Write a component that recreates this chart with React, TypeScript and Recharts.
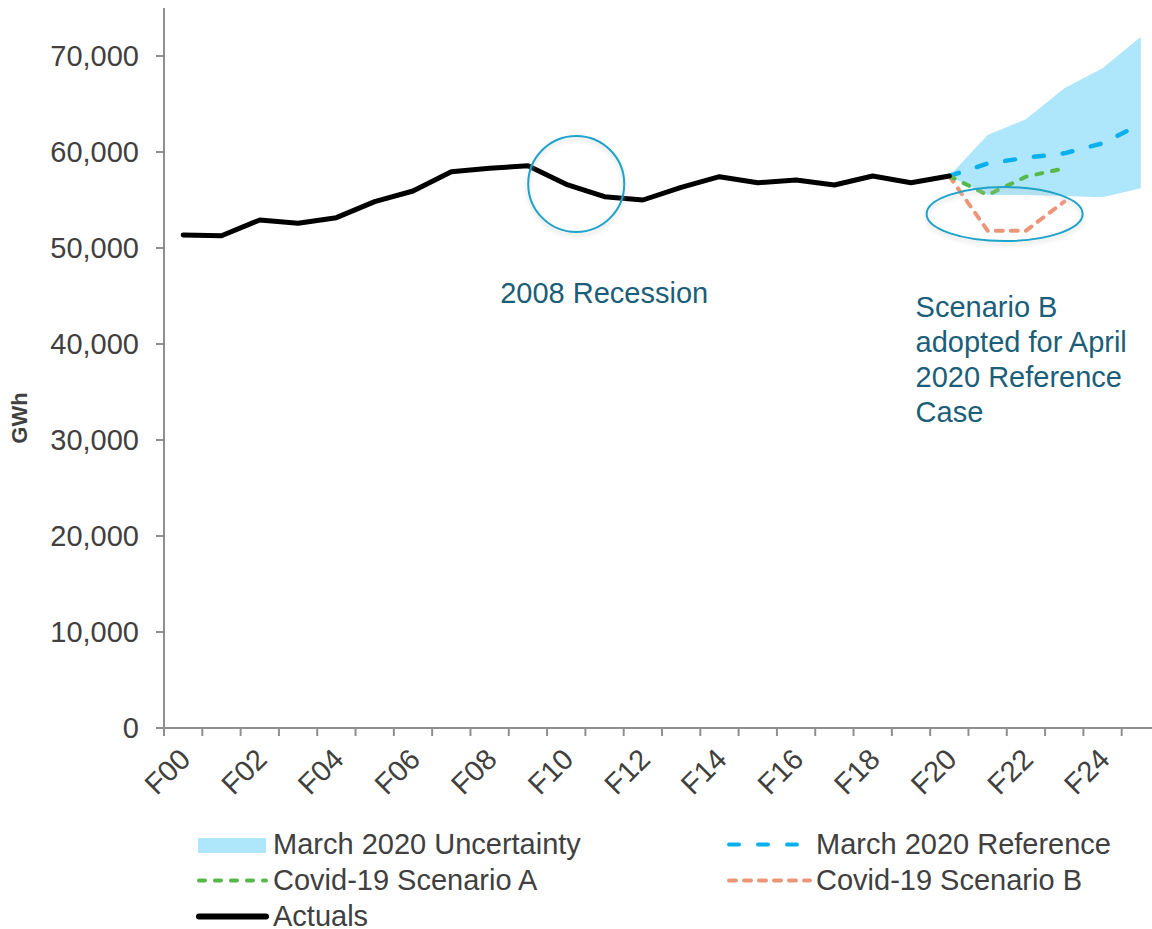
import { Area, ComposedChart, Line, ReferenceDot, XAxis, YAxis } from "recharts";

const years = [
  "F00", "F01", "F02", "F03", "F04", "F05", "F06", "F07", "F08", "F09", "F10", "F11", "F12",
  "F13", "F14", "F15", "F16", "F17", "F18", "F19", "F20", "F21", "F22", "F23", "F24", "F25",
];

const actuals = [
  51350, 51280, 52920, 52570, 53160, 54830, 55940, 57950, 58300, 58570, 56640, 55350, 55000,
  56320, 57430, 56800, 57080, 56560, 57500, 56800, 57500, null, null, null, null, null,
];

const pad = Array(20).fill(null);
const marchReference = [...pad, 57500, 58800, 59400, 59860, 60900, 62900];
const scenarioA = [...pad, 57500, 55520, 57430, 58300, null, null];
const scenarioB = [...pad, 57500, 51800, 51800, 54830, null, null];
const uncertaintyLow = [...pad, 57500, 55520, 55520, 55420, 55280, 56220];
const uncertaintyHigh = [...pad, 57500, 61770, 63400, 66630, 68720, 72010];

const yTicks = [0, 10000, 20000, 30000, 40000, 50000, 60000, 70000];

const data = years.map((year, i) => ({
  year,
  actual: actuals[i],
  reference: marchReference[i],
  a: scenarioA[i],
  b: scenarioB[i],
  unc: uncertaintyLow[i] == null ? null : [uncertaintyLow[i], uncertaintyHigh[i]],
}));

const FONT = "'Liberation Sans', Arial, sans-serif";
const TEXT = "#404040";
const NOTE = "#1b5e79";
const AXIS = "#8f8f8f";
const RING = "#1ea3c9";
const C_UNC = "#aee6fb";
const C_REF = "#0ab0ee";
const C_A = "#55b848";
const C_B = "#ec9679";

const CHART_W = 1170;
const CHART_H = 929;
const Y_W = 164;
const M_RIGHT = 10;
const BAND = (CHART_W - Y_W - M_RIGHT) / years.length;

const DASH_REF = "10 19";
const DASH_A = "6 10";
const DASH_B = "7 8";

const notes = [
  { x: "F10", y: 56670, dx: 10, rx: 48, ry: 48, tx: -76, ty: 119, lines: ["2008 Recession"] },
  {
    x: "F21",
    y: 53540,
    dx: 17,
    rx: 78,
    ry: 27,
    tx: -89,
    ty: 103,
    lines: ["Scenario B", "adopted for April", "2020 Reference", "Case"],
  },
];

function XTick(props: any) {
  const { x, y, payload, index } = props;
  const tx = x + 9;
  const ty = y + 33;
  return (
    <g>
      <line x1={x - BAND / 2} x2={x - BAND / 2} y1={y} y2={y + 8} stroke={AXIS} strokeWidth={2} />
      {index % 2 === 0 && (
        <text
          x={tx}
          y={ty}
          transform={`rotate(-45 ${tx} ${ty})`}
          textAnchor="end"
          fill={TEXT}
          fontSize={29}
          fontFamily={FONT}
        >
          {payload.value}
        </text>
      )}
    </g>
  );
}

function noteShape(n: (typeof notes)[number]) {
  return (p: any) => {
    const cx = p.cx + n.dx;
    const cy = p.cy;
    return (
      <g>
        <ellipse cx={cx} cy={cy + 3} rx={n.rx} ry={n.ry} fill="none" stroke="#c8c8c8" strokeWidth={3} opacity={0.45} filter="url(#soft)" />
        <ellipse cx={cx} cy={cy} rx={n.rx} ry={n.ry} fill="none" stroke={RING} strokeWidth={2} />
        {n.lines.map((t, i) => (
          <text key={t} x={cx + n.tx} y={cy + n.ty + i * 35} fill={NOTE} fontSize={29} fontFamily={FONT}>
            {t}
          </text>
        ))}
      </g>
    );
  };
}

const legendItems = [
  { label: "March 2020 Uncertainty", kind: "box", color: C_UNC, col: 0, row: 0 },
  { label: "March 2020 Reference", kind: "line", color: C_REF, dash: DASH_REF, col: 1, row: 0 },
  { label: "Covid-19 Scenario A", kind: "line", color: C_A, dash: DASH_A, col: 0, row: 1 },
  { label: "Covid-19 Scenario B", kind: "line", color: C_B, dash: DASH_B, col: 1, row: 1 },
  { label: "Actuals", kind: "line", color: "#000", dash: undefined, col: 0, row: 2 },
];

function Overlay() {
  const colX = [198, 728];
  return (
    <svg
      width={1152}
      height={929}
      style={{ position: "absolute", left: 0, top: 0, pointerEvents: "none" }}
    >
      <defs>
        <filter id="soft" x="-20%" y="-20%" width="140%" height="140%">
          <feGaussianBlur stdDeviation={2} />
        </filter>
      </defs>
      <text
        x={27}
        y={418}
        transform="rotate(-90 27 418)"
        textAnchor="middle"
        fontWeight="bold"
        fontSize={22}
        fill={TEXT}
        fontFamily={FONT}
      >
        GWh
      </text>
      {legendItems.map((it) => {
        const x0 = colX[it.col];
        const base = 854 + it.row * 36;
        const mid = base - 9.5;
        return (
          <g key={it.label}>
            {it.kind === "box" ? (
              <rect x={x0} y={838} width={68} height={15} fill={it.color} />
            ) : (
              <line
                x1={x0 + 1}
                x2={x0 + (it.col === 0 ? 68 : 82)}
                y1={mid}
                y2={mid}
                stroke={it.color}
                strokeWidth={it.dash ? 4 : 6}
                strokeDasharray={it.dash}
                strokeLinecap="round"
              />
            )}
            <text x={x0 + (it.col === 0 ? 75 : 88)} y={base} fill={TEXT} fontSize={29} fontFamily={FONT}>
              {it.label}
            </text>
          </g>
        );
      })}
    </svg>
  );
}

export default function App() {
  return (
    <div
      style={{
        position: "fixed",
        left: 0,
        top: 0,
        width: 1152,
        height: 929,
        overflow: "hidden",
        background: "#fff",
      }}
    >
      <ComposedChart
        width={CHART_W}
        height={CHART_H}
        data={data}
        margin={{ top: 8, right: M_RIGHT, bottom: 141, left: 0 }}
      >
        <XAxis
          dataKey="year"
          height={60}
          interval={0}
          padding={{ left: BAND / 2, right: BAND / 2 }}
          tickLine={false}
          tickSize={0}
          tickMargin={0}
          axisLine={{ stroke: AXIS, strokeWidth: 2 }}
          tick={<XTick />}
        />
        <YAxis
          width={Y_W}
          domain={[0, 75000]}
          ticks={yTicks}
          interval={0}
          tickFormatter={(v: number) => v.toLocaleString("en-US")}
          tick={{ fill: TEXT, fontSize: 29, fontFamily: FONT }}
          tickSize={8}
          tickMargin={17}
          axisLine={{ stroke: AXIS, strokeWidth: 2 }}
          tickLine={{ stroke: AXIS, strokeWidth: 2 }}
        />
        <Area dataKey="unc" stroke="none" fill={C_UNC} fillOpacity={1} isAnimationActive={false} />
        <Line dataKey="reference" stroke={C_REF} strokeWidth={4.5} strokeDasharray={DASH_REF} strokeLinecap="round" dot={false} isAnimationActive={false} />
        <Line dataKey="b" stroke={C_B} strokeWidth={4} strokeDasharray={DASH_B} strokeLinecap="round" dot={false} isAnimationActive={false} />
        <Line dataKey="a" stroke={C_A} strokeWidth={4} strokeDasharray={DASH_A} strokeLinecap="round" dot={false} isAnimationActive={false} />
        <Line dataKey="actual" stroke="#000" strokeWidth={5} strokeLinecap="round" strokeLinejoin="round" dot={false} isAnimationActive={false} />
        {notes.map((n) => (
          <ReferenceDot key={n.x} x={n.x} y={n.y} shape={noteShape(n)} />
        ))}
      </ComposedChart>
      <Overlay />
    </div>
  );
}
